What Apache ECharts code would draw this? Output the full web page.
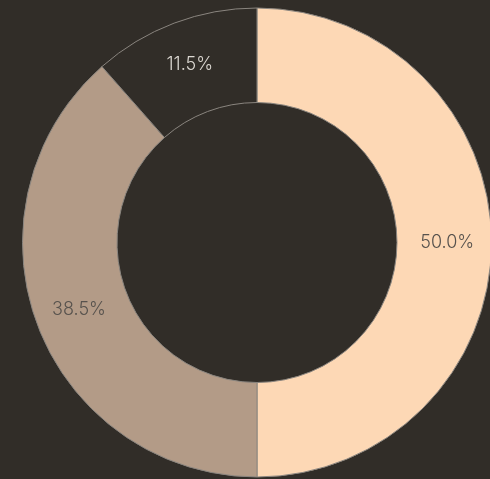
<!DOCTYPE html>
<html>
<head>
<meta charset="utf-8">
<script src="https://cdn.jsdelivr.net/npm/echarts@6/dist/echarts.min.js"></script>
<style>
  html, body { margin: 0; padding: 0; background: #312d28; }
  #chart { width: 490px; height: 479px; }
</style>
</head>
<body>
<div id="chart"></div>
<script>
// Share of each segment, in percent
const names = ['A', 'B', 'C'];
const values = [50.0, 38.5, 11.5];
const colors = ['#fdd8b5', '#b39b87', '#312d28'];
const labelColors = ['#57524d', '#57524d', '#dcd8d2'];

const chart = echarts.init(document.getElementById('chart'));
chart.setOption({
  backgroundColor: '#312d28',
  animation: false,
  series: [{
    type: 'pie',
    center: [257, 242.5],
    radius: [140, 234.5],
    startAngle: 90,
    clockwise: true,
    avoidLabelOverlap: false,
    itemStyle: { borderColor: '#8a857f', borderWidth: 1 },
    label: {
      position: 'inside',
      fontFamily: 'Inter, sans-serif',
      fontWeight: 300,
      fontSize: 18,
      formatter: p => p.value.toFixed(1) + '%'
    },
    labelLine: { show: false },
    data: names.map((n, i) => ({
      name: n,
      value: values[i],
      itemStyle: { color: colors[i] },
      label: { color: labelColors[i] }
    }))
  }]
});
</script>
</body>
</html>
